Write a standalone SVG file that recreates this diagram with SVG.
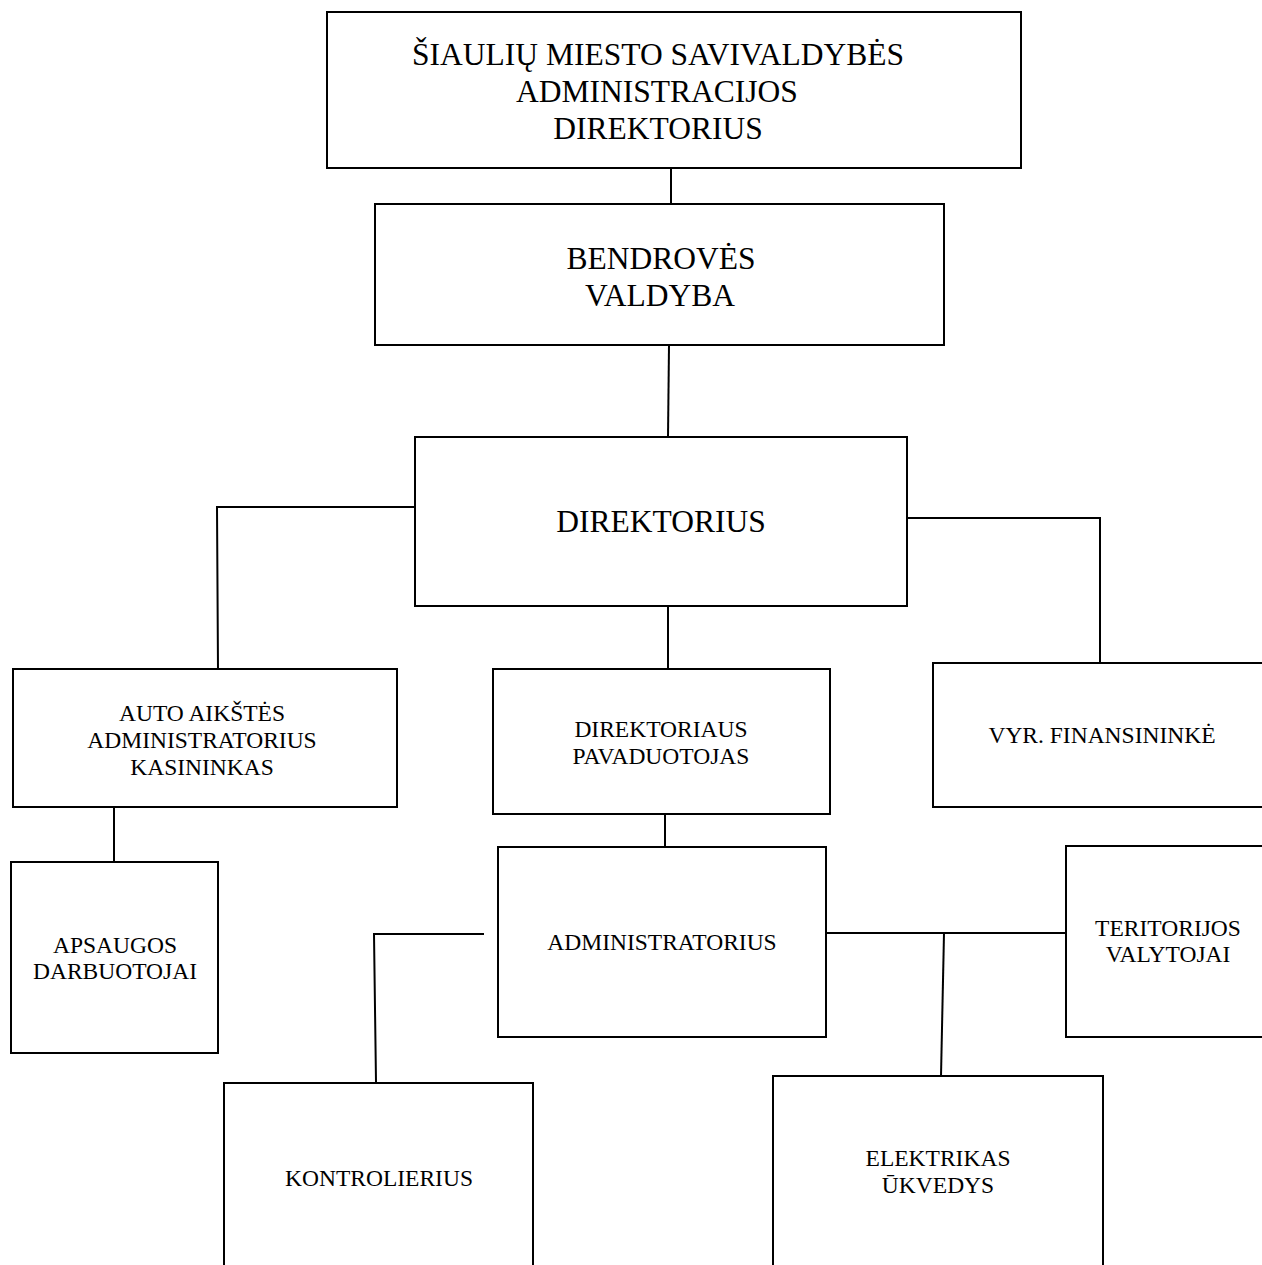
<svg xmlns="http://www.w3.org/2000/svg" width="1262" height="1265" viewBox="0 0 1262 1265">
<style>
.box{fill:#fff;stroke:#000;stroke-width:2}
.ln{fill:none;stroke:#000;stroke-width:2}
.big{font-family:"Liberation Serif","Times New Roman",serif;font-size:31.5px;fill:#000;text-anchor:middle}
.sm{font-family:"Liberation Serif","Times New Roman",serif;font-size:23.5px;fill:#000;text-anchor:middle}
</style>
<rect width="1262" height="1265" fill="#fff"/>
<g id="connectors">
<line class="ln" x1="671" y1="168" x2="671" y2="204"/>
<line class="ln" x1="669" y1="345" x2="668" y2="437"/>
<polyline class="ln" points="415,507 217,507 218,669"/>
<polyline class="ln" points="907,518 1100,518 1100,663"/>
<line class="ln" x1="668" y1="606" x2="668" y2="669"/>
<line class="ln" x1="114" y1="807" x2="114" y2="862"/>
<line class="ln" x1="665" y1="814" x2="665" y2="847"/>
<polyline class="ln" points="484,934 374,934 376,1082"/>
<line class="ln" x1="826" y1="933" x2="1066" y2="933"/>
<line class="ln" x1="944" y1="933" x2="941" y2="1076"/>
</g>
<g id="n-top">
<rect class="box" x="327" y="12" width="694" height="156"/>
<text class="big" x="658" y="65">ŠIAULIŲ MIESTO SAVIVALDYBĖS</text>
<text class="big" x="657" y="102">ADMINISTRACIJOS</text>
<text class="big" x="658" y="139">DIREKTORIUS</text>
</g>
<g id="n-valdyba">
<rect class="box" x="375" y="204" width="569" height="141"/>
<text class="big" x="661" y="269">BENDROVĖS</text>
<text class="big" x="660" y="306">VALDYBA</text>
</g>
<g id="n-direktorius">
<rect class="box" x="415" y="437" width="492" height="169"/>
<text class="big" x="661" y="532">DIREKTORIUS</text>
</g>
<g id="n-auto">
<rect class="box" x="13" y="669" width="384" height="138"/>
<text class="sm" x="202" y="721">AUTO AIKŠTĖS</text>
<text class="sm" x="202" y="748">ADMINISTRATORIUS</text>
<text class="sm" x="202" y="775">KASININKAS</text>
</g>
<g id="n-pavaduotojas">
<rect class="box" x="493" y="669" width="337" height="145"/>
<text class="sm" x="661" y="737">DIREKTORIAUS</text>
<text class="sm" x="661" y="764">PAVADUOTOJAS</text>
</g>
<g id="n-finansininke">
<rect class="box" x="933" y="663" width="340" height="144"/>
<text class="sm" x="1102" y="743">VYR. FINANSININKĖ</text>
</g>
<g id="n-apsaugos">
<rect class="box" x="11" y="862" width="207" height="191"/>
<text class="sm" x="115" y="953">APSAUGOS</text>
<text class="sm" x="115" y="979">DARBUOTOJAI</text>
</g>
<g id="n-administratorius">
<rect class="box" x="498" y="847" width="328" height="190"/>
<text class="sm" x="662" y="950">ADMINISTRATORIUS</text>
</g>
<g id="n-teritorijos">
<rect class="box" x="1066" y="846" width="210" height="191"/>
<text class="sm" x="1168" y="936">TERITORIJOS</text>
<text class="sm" x="1168" y="962">VALYTOJAI</text>
</g>
<g id="n-kontrolierius">
<rect class="box" x="224" y="1083" width="309" height="200"/>
<text class="sm" x="379" y="1186">KONTROLIERIUS</text>
</g>
<g id="n-elektrikas">
<rect class="box" x="773" y="1076" width="330" height="207"/>
<text class="sm" x="938" y="1166">ELEKTRIKAS</text>
<text class="sm" x="938" y="1193">ŪKVEDYS</text>
</g>
</svg>
